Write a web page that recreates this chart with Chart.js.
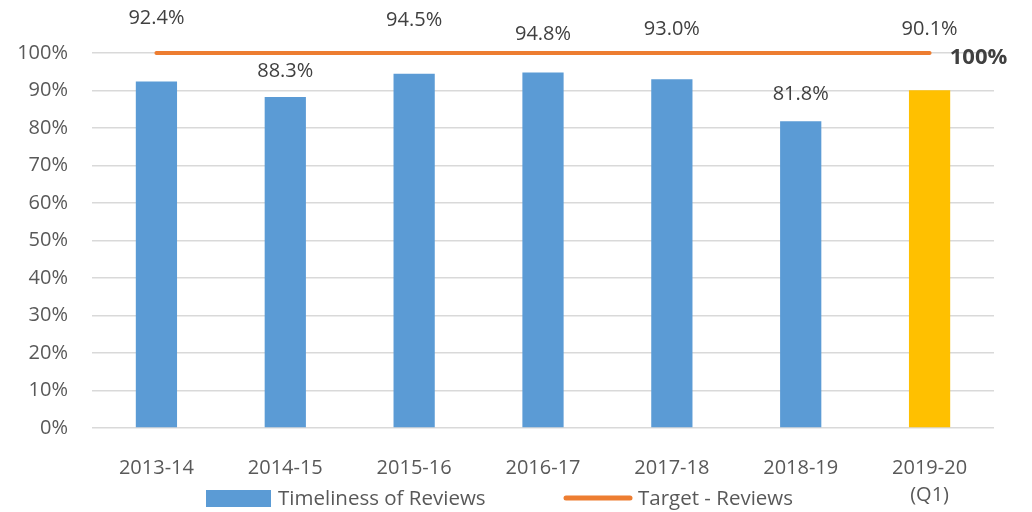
<!DOCTYPE html>
<html lang="en">
<head>
    <meta charset="UTF-8">
    <title>Timeliness of Reviews</title>
    <script src="https://cdn.jsdelivr.net/npm/chart.js"></script>
    <style>
        html, body { margin: 0; padding: 0; background: #fff; }
        #wrap { width: 1032px; height: 512px; }
    </style>
</head>
<body>
<div id="wrap"><canvas id="chart" width="1032" height="512"></canvas></div>
<script>
    const years = ["2013-14", "2014-15", "2015-16", "2016-17", "2017-18", "2018-19", ["2019-20", "(Q1)"]];
    const timeliness = [92.4, 88.3, 94.5, 94.8, 93.0, 81.8, 90.1];
    const target = [100, 100, 100, 100, 100, 100, 100];
    const yTicks = [0, 10, 20, 30, 40, 50, 60, 70, 80, 90, 100];

    const FONT = "'Open Sans', sans-serif";
    const blue = "#5B9BD5";
    const gold = "#FFC000";
    const orange = "#ED7D31";

    // value labels sit at different heights above each bar (px above bar top)
    const labelLift = [63, 26, 53, 38, 50, 27, 61];

    const valueLabels = {
        id: "valueLabels",
        afterDatasetsDraw(chart) {
            const ctx = chart.ctx;
            ctx.save();
            ctx.font = "20px " + FONT;
            ctx.fillStyle = "#404040";
            ctx.textAlign = "center";
            ctx.textBaseline = "middle";
            chart.getDatasetMeta(0).data.forEach((bar, i) => {
                ctx.fillText(timeliness[i].toFixed(1) + "%", bar.x, bar.y - labelLift[i]);
            });
            const pts = chart.getDatasetMeta(1).data;
            const last = pts[pts.length - 1];
            ctx.font = "bold 22px " + FONT;
            ctx.fillText(target[target.length - 1] + "%", last.x + 49, last.y + 5);
            ctx.restore();
        }
    };

    const legendDraw = {
        id: "legendDraw",
        afterDraw(chart) {
            const ctx = chart.ctx;
            const y = 499;
            ctx.save();
            ctx.font = "20.5px " + FONT;
            ctx.textBaseline = "middle";
            let x = 206;
            ctx.fillStyle = blue;
            ctx.fillRect(x, 490, 65, 17);
            ctx.fillStyle = "#595959";
            ctx.fillText(chart.data.datasets[0].label, x + 72, y);
            x = 564;
            ctx.strokeStyle = orange;
            ctx.lineWidth = 5;
            ctx.lineCap = "round";
            ctx.beginPath();
            ctx.moveTo(x + 2, y - 1);
            ctx.lineTo(x + 66, y - 1);
            ctx.stroke();
            ctx.fillText(chart.data.datasets[1].label, x + 74, y);
            ctx.restore();
        }
    };

    new Chart(document.getElementById("chart"), {
        data: {
            labels: years,
            datasets: [
                {
                    type: "bar",
                    label: "Timeliness of Reviews",
                    data: timeliness,
                    backgroundColor: timeliness.map((v, i) => i === timeliness.length - 1 ? gold : blue),
                    categoryPercentage: 1,
                    barPercentage: 0.32,
                    order: 2
                },
                {
                    type: "line",
                    label: "Target - Reviews",
                    data: target,
                    borderColor: orange,
                    borderWidth: 4,
                    borderCapStyle: "round",
                    pointRadius: 0,
                    clip: false,
                    order: 1
                }
            ]
        },
        options: {
            responsive: false,
            animation: false,
            layout: { padding: { top: 53, right: 38, bottom: 0, left: 0 } },
            plugins: {
                legend: { display: false },
                tooltip: { enabled: false }
            },
            scales: {
                x: {
                    grid: { display: false, drawTicks: false },
                    border: { display: false },
                    ticks: { color: "#595959", font: { family: FONT, size: 20, lineHeight: 1.35 }, padding: 27, maxRotation: 0 },
                    afterFit(scale) { scale.height = 84; }
                },
                y: {
                    min: 0,
                    max: 100,
                    afterBuildTicks(scale) { scale.ticks = yTicks.map(v => ({ value: v })); },
                    grid: { color: "#D9D9D9", lineWidth: 1.5, drawTicks: false },
                    border: { display: false },
                    ticks: {
                        color: "#595959",
                        font: { family: FONT, size: 20 },
                        padding: 24,
                        callback: v => v + "%"
                    },
                    afterFit(scale) { scale.width = 92; }
                }
            }
        },
        plugins: [valueLabels, legendDraw]
    });
</script>
</body>
</html>
